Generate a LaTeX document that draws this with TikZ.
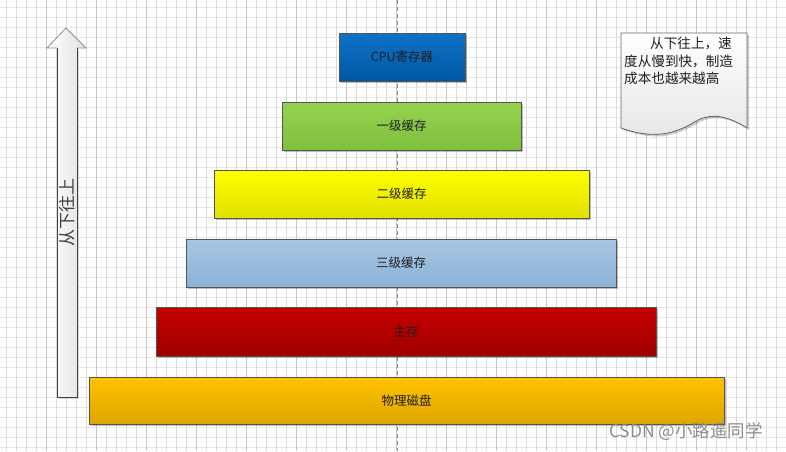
\documentclass[tikz,border=0pt]{standalone}
\usepackage{fontspec}
\setmainfont{Noto Sans CJK SC}
\usetikzlibrary{shadows}
\definecolor{edge}{HTML}{555555}
\definecolor{txt}{HTML}{1E1E1E}
\definecolor{cpuT}{HTML}{0E72C6}\definecolor{cpuB}{HTML}{0058A3}
\definecolor{lOneT}{HTML}{96D250}\definecolor{lOneB}{HTML}{7EC03E}
\definecolor{lTwoT}{HTML}{FFFF00}\definecolor{lTwoB}{HTML}{E2E000}
\definecolor{lThrT}{HTML}{A8C6E2}\definecolor{lThrB}{HTML}{8CB2D8}
\definecolor{memT}{HTML}{C40000}\definecolor{memB}{HTML}{A00000}
\definecolor{dskT}{HTML}{FFC200}\definecolor{dskB}{HTML}{DFA600}
\tikzset{
  gridminor/.style={draw=black!14, line width=0.8pt},
  gridmajor/.style={draw=black!22, line width=0.9pt},
  gridh/.style={draw=black!9, line width=1.6pt},
  box/.style={draw=edge, line width=0.9pt, rectangle, inner sep=0pt,
    text=txt, font=\fontsize{12.5}{14}\selectfont,
    drop shadow={shadow xshift=2pt, shadow yshift=-2pt, opacity=0.25, fill=black}},
}
\begin{document}
\begin{tikzpicture}[x=1pt,y=-1pt]
\useasboundingbox (0,0) rectangle (786,451);
\fill[white] (0,0) rectangle (786,451);
% grid
\foreach \j in {0,...,44} {\draw[gridh] (0,{7.3+10*\j}) -- (786,{7.3+10*\j});}
\foreach \i in {0,...,77} {
  \pgfmathtruncatemacro{\m}{mod(\i,5)}
  \ifnum\m=4 \draw[gridmajor] ({6.7+10*\i},0) -- ({6.7+10*\i},451);
  \else \draw[gridminor] ({6.7+10*\i},0) -- ({6.7+10*\i},451); \fi
}
\draw[black!45, line width=0.8pt, dash pattern=on 4pt off 3pt] (397.5,0) -- (397.5,451);

% boxes
\node[box, top color=cpuT, bottom color=cpuB, minimum width=126pt, minimum height=48pt] (cpu) at (402,57) {CPU寄存器};
\node[box, top color=lOneT, bottom color=lOneB, minimum width=239pt, minimum height=48pt] (l1) at (401.5,126) {一级缓存};
\node[box, top color=lTwoT, bottom color=lTwoB, minimum width=375pt, minimum height=48pt] (l2) at (401.5,194) {二级缓存};
\node[box, top color=lThrT, bottom color=lThrB, minimum width=430pt, minimum height=48pt] (l3) at (401,263) {三级缓存};
\node[box, top color=memT, bottom color=memB, minimum width=500pt, minimum height=49pt] (mem) at (406,331.5) {主存};
\node[box, top color=dskT, bottom color=dskB, minimum width=635pt, minimum height=47pt] (disk) at (406.5,400.5) {物理磁盘};

% up arrow
\fill[black!25, opacity=0.6] (59,50) -- (79,50) -- (79,399) -- (59,399) -- cycle;
\shade[left color=white, right color=black!12] (57,48) -- (47,48) -- (66,28) -- (86,48) -- (77,48) -- (77,397) -- (57,397) -- cycle;
\draw[black!45, line width=0.8pt] (57,48) -- (47,48) -- (66,28) -- (86,48) -- (77,48);
\draw[black!75, line width=0.9pt] (57,48) -- (57,397) -- (77,397) -- (77,48);
\node[rotate=90, text=black!75, font=\fontsize{17}{19}\selectfont] (uptext) at (67,212) {从下往上};

% document shape
\path[fill=black, opacity=0.2] (623,35) -- (749,35) -- (749,130) .. controls (730,118) and (715,115) .. (700,122) .. controls (680,134) and (660,143) .. (623,130) -- cycle;
\shade[top color=white, bottom color=black!10]
  (621,33) -- (747,33) -- (747,128) .. controls (728,116) and (713,113) .. (698,120) .. controls (678,132) and (658,141) .. (621,128) -- cycle;
\draw[black!60, line width=0.8pt]
  (621,33) -- (747,33) -- (747,128) .. controls (728,116) and (713,113) .. (698,120) .. controls (678,132) and (658,141) .. (621,128) -- cycle;
\node[anchor=north west, align=left, inner sep=0pt, text=txt, font=\fontsize{13.6}{17.5}\selectfont] (note) at (624,37) {\hspace{26pt}从下往上，速\\度从慢到快，制造\\成本也越来越高};

% watermark
\node[text=black!45, font=\fontsize{17.5}{20}\selectfont, inner sep=0pt] (wm) at (686,432) {CSDN @小路遥同学};
\end{tikzpicture}
\end{document}
